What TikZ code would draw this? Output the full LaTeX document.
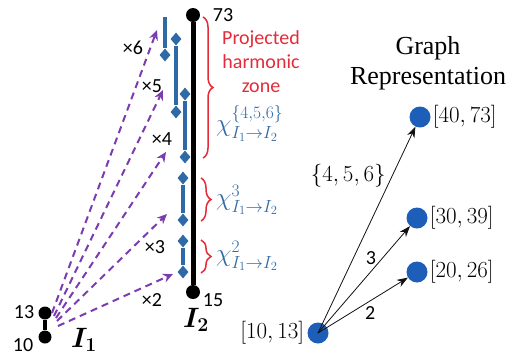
\RequirePackage{fix-cm}
\documentclass[tikz,border=0pt]{standalone}
\usepackage{amsmath,bm}
\usepackage{fontspec}
\setmainfont{Carlito}
\newfontfamily\titlefont{Liberation Serif}
\usepackage{tikz}
\usetikzlibrary{arrows.meta,positioning,shapes.geometric,decorations.pathreplacing}
\definecolor{harm}{HTML}{2F6AA6}
\definecolor{zonered}{HTML}{E52B3A}
\definecolor{hopvio}{HTML}{7A3CB0}
\definecolor{gblue}{HTML}{1D5FB8}
\definecolor{ink}{HTML}{111111}
\tikzset{
  bead/.style={circle,fill=black,inner sep=0pt,minimum size=14pt},
  knot/.style={diamond,fill=harm,inner sep=0pt,minimum width=11pt,minimum height=13pt},
  ivl/.style={line width=3.5pt,draw=harm},
  hop/.style={-{Stealth[length=10pt,width=9pt]},line width=2pt,draw=hopvio,dash pattern=on 7pt off 5pt},
  zone/.style={draw=zonered,line width=1.5pt,decorate,decoration={brace,amplitude=10pt}},
  gnode/.style={circle,fill=gblue,inner sep=0pt,minimum size=21pt},
  garr/.style={-{Stealth[length=11pt,width=8pt]},line width=0.8pt,draw=ink},
  lbl/.style={font=\fontsize{20}{24}\selectfont,inner sep=1pt},
  mlbl/.style={font=\fontsize{23}{27}\selectfont,inner sep=1pt},
  chil/.style={font=\fontsize{25}{29}\selectfont,inner sep=0pt,text=harm}
}

\begin{document}
\begin{tikzpicture}[x=1pt,y=-1pt]
 \useasboundingbox (0,0) rectangle (517,360);
 % I_2 and I_1
 \node[bead] (i2top) at (193,15) {};
 \node[bead] (i2bot) at (193,292) {};
 \draw[line width=5pt] (i2top)--(i2bot);
 \node[bead,minimum size=13pt] (i1top) at (45,313) {};
 \node[bead,minimum size=13pt] (i1bot) at (45,337) {};
 \draw[line width=4pt] (i1top)--(i1bot);
 \node[lbl] (n73) at (223,15) {73};
 \node[lbl] (n15) at (213,300) {15};
 \node[lbl] (n13) at (24,312) {13};
 \node[lbl] (n10) at (23,345) {10};
 \node[font=\fontsize{28}{32}\selectfont] (ione) at (84,340) {$\bm{I_1}$};
 \node[font=\fontsize{28}{32}\selectfont] (itwo) at (196,320) {$\bm{I_2}$};
 % projected intervals
 \coordinate (k6a) at (165,17);
 \node[knot] (k6b) at (165,55) {};
 \node[knot] (k5a) at (176,39) {};
 \node[knot] (k5b) at (176,112) {};
 \node[knot] (k4a) at (185,94) {};
 \node[knot] (k4b) at (185,157) {};
 \node[knot] (k3a) at (183,178) {};
 \node[knot] (k3b) at (183,220) {};
 \node[knot] (k2a) at (183,241) {};
 \node[knot] (k2b) at (183,272) {};
 \draw[ivl] (k6a)--(k6b); \draw[ivl] (k5a)--(k5b); \draw[ivl] (k4a)--(k4b);
 \draw[ivl] (k3a)--(k3b); \draw[ivl] (k2a)--(k2b);
 % braces
 \draw[zone] (203,17)--(203,158);
 \draw[zone] (201,178)--(201,221);
 \draw[zone] (201,240)--(201,273);
 \node[lbl,text=zonered,align=center] (ztxt) at (261,62) {Projected\\harmonic\\zone};
 \node[chil,anchor=west] (chi456) at (216,123) {$\chi^{\{4,5,6\}}_{I_1\to I_2}$};
 \node[chil,anchor=west] (chi3) at (216,200) {$\chi^{3}_{I_1\to I_2}$};
 \node[chil,anchor=west] (chi2) at (216,256) {$\chi^{2}_{I_1\to I_2}$};
 % harmonic hops
 \coordinate (s6) at (52,313); \coordinate (t6) at (157,30);
 \coordinate (s5) at (54,316); \coordinate (t5) at (163,90);
 \coordinate (s4) at (56,318); \coordinate (t4) at (166,152);
 \coordinate (s3) at (57,321); \coordinate (t3) at (167,214);
 \coordinate (s2) at (58,326); \coordinate (t2) at (173,274);
 \draw[hop] (s6)--(t6); \draw[hop] (s5)--(t5); \draw[hop] (s4)--(t4);
 \draw[hop] (s3)--(t3); \draw[hop] (s2)--(t2);
 \node[lbl] (x6) at (133,48) {×6};
 \node[lbl] (x5) at (152,86) {×5};
 \node[lbl] (x4) at (162,139) {×4};
 \node[lbl] (x3) at (155,247) {×3};
 \node[lbl] (x2) at (152,300) {×2};
 % graph representation
 \node[font=\titlefont\fontsize{26}{30}\selectfont,align=center] (gtitle) at (428,63) {Graph\\Representation};
 \node[gnode,label={[mlbl,label distance=2pt]left:$[10,13]$}] (g10) at (318,333) {};
 \node[gnode,label={[mlbl,label distance=1pt]right:$[20,26]$}] (g20) at (417,272) {};
 \node[gnode,label={[mlbl,label distance=1pt]right:$[30,39]$}] (g30) at (417,218) {};
 \node[gnode,label={[mlbl,label distance=1pt]right:$[40,73]$}] (g40) at (420,117) {};
 \draw[garr] (g10.center)--(g40) node[mlbl,pos=0.76,left=5pt] {$\{4,5,6\}$};
 \draw[garr] (g10.center)--(g30) node[lbl,pos=0.7,left=5pt] {3};
 \draw[garr] (g10.center)--(g20) node[lbl,pos=0.58,below=4pt] {2};
\end{tikzpicture}
\end{document}
